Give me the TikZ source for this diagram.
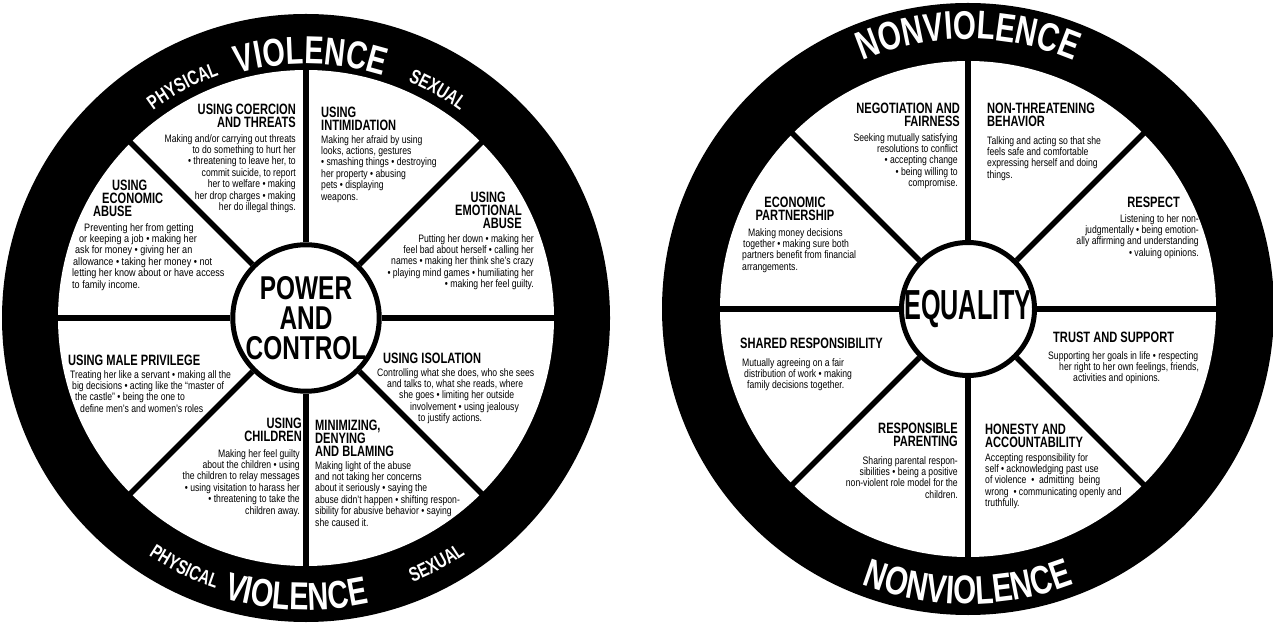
\documentclass[tikz,border=0pt]{standalone}
\usepackage{fontspec}
\newfontfamily\wheelbody{Liberation Sans}[FakeStretch=0.8]
\newfontfamily\wheelwide{Liberation Sans}[FakeStretch=0.84]
\newfontfamily\wheelhead{Liberation Sans}[FakeStretch=0.74]
\newfontfamily\wheelhub{Liberation Sans}[FakeStretch=0.6]
\newcommand{\ringbig}{\color{white}\wheelhead\bfseries\fontsize{39}{39}\selectfont}
\newcommand{\ringnon}{\color{white}\wheelhead\bfseries\fontsize{40}{40}\selectfont}
\newcommand{\ringsmall}{\color{white}\wheelhead\bfseries\fontsize{20}{20}\selectfont}
\usetikzlibrary{positioning,decorations.text}
\tikzset{
  baseline = (current bounding box.center),
}

\begin{document}
\begin{tikzpicture}[
    x=1pt, y=1pt,
    head/.style={font=\wheelhead\bfseries\fontsize{15}{13}\selectfont, inner sep=0pt},
    body/.style={font=\wheelbody\fontsize{10.8}{11.4}\selectfont, inner sep=0pt},
    spoke/.style={line width=5.5pt},
    hub/.style={circle, draw, line width=5pt, fill=white, inner sep=0pt, align=center},
    ringtext/.style={decorate, decoration={text along path, text align=center, text={#1}}}
    ]
    \useasboundingbox (0,0) rectangle (1273,624);
    \coordinate (L) at (306,306);
    \coordinate (R) at (968,315);

    \fill (L) circle (304);
    \fill[white] (L) circle (248);
    \node[hub, minimum size=124pt, font=\wheelhead\bfseries\fontsize{33}{30}\selectfont] (PC) at (L) {POWER\\AND\\CONTROL};
    \draw[spoke] (PC.0) -- ++(0:190);
    \draw[spoke] (PC.45) -- ++(45:190);
    \draw[spoke] (PC.90) -- ++(90:190);
    \draw[spoke] (PC.135) -- ++(135:190);
    \draw[spoke] (PC.180) -- ++(180:190);
    \draw[spoke] (PC.225) -- ++(225:190);
    \draw[spoke] (PC.270) -- ++(270:190);
    \draw[spoke] (PC.315) -- ++(315:190);

    \path[ringtext={|\ringbig|VIOLENCE}, shift={(L)}] (134:254) arc[start angle=134, end angle=44, radius=254];
    \path[ringtext={|\ringsmall|PHYSICAL}, shift={(L)}] (140:258) arc[start angle=140, end angle=96, radius=258];
    \path[ringtext={|\ringsmall|SEXUAL}, shift={(L)}] (82:258) arc[start angle=82, end angle=38, radius=258];
    \path[ringtext={|\ringbig|VIOLENCE}, shift={(L)}] (223:292) arc[start angle=223, end angle=313, radius=292];
    \path[ringtext={|\ringsmall|PHYSICAL}, shift={(L)}] (222:285) arc[start angle=222, end angle=266, radius=285];
    \path[ringtext={|\ringsmall|SEXUAL}, shift={(L)}] (276:285) arc[start angle=276, end angle=320, radius=285];

    \node[head, anchor=north east, align=right] (coerT) at (296,520) {USING COERCION\\AND THREATS};
    \node[body, anchor=north east, align=right] (coerB) at (296,490) {Making and/or carrying out threats\\to do something to hurt her\\• threatening to leave her, to\\commit suicide, to report\\her to welfare • making\\her drop charges • making\\her do illegal things.};
    \node[head, anchor=north west, align=left] (intiT) at (321,517) {USING\\INTIMIDATION};
    \node[body, anchor=north west, align=left] (intiB) at (321,489) {Making her afraid by using\\looks, actions, gestures\\• smashing things • destroying\\her property • abusing\\pets • displaying\\weapons.};
    \node[head, anchor=north east, align=right] (emoT) at (522,432) {USING\hspace*{16pt}\\EMOTIONAL\hspace*{7pt}\\ABUSE};
    \node[body, anchor=north east, align=right] (emoB) at (534,390) {Putting her down • making her\\feel bad about herself • calling her\\names • making her think she’s crazy\\• playing mind games • humiliating her\\• making her feel guilty.};
    \node[head, anchor=north west, align=left] (ecoT) at (93,444) {\hspace*{19pt}USING\\\hspace*{9pt}ECONOMIC\\ABUSE};
    \node[body, font=\wheelwide\fontsize{10.8}{11.4}\selectfont, anchor=north west, align=left] (ecoB) at (72,401) {\hspace*{12pt}Preventing her from getting\\\hspace*{7pt}or keeping a job • making her\\\hspace*{3pt}ask for money • giving her an\\\hspace*{1pt}allowance • taking her money • not\\letting her know about or have access\\to family income.};
    \node[head, anchor=north west, align=left] (maleT) at (68,269) {USING MALE PRIVILEGE};
    \node[body, anchor=north west, align=left] (maleB) at (70,254) {Treating her like a servant • making all the\\\hspace*{2pt}big decisions • acting like the “master of\\\hspace*{5pt}the castle” • being the one to\\\hspace*{10pt}define men’s and women’s roles};
    \node[head, anchor=north east, align=right] (chilT) at (302,206) {USING\\CHILDREN};
    \node[body, anchor=north east, align=right] (chilB) at (300,175) {Making her feel guilty\\about the children • using\\the children to relay messages\\• using visitation to harass her\\• threatening to take the\\children away.};
    \node[head, anchor=north west, align=left] (miniT) at (315,204) {MINIMIZING,\\DENYING\\AND BLAMING};
    \node[body, anchor=north west, align=left] (miniB) at (315,163) {Making light of the abuse\\and not taking her concerns\\about it seriously • saying the\\abuse didn’t happen • shifting respon-\\sibility for abusive behavior • saying\\she caused it.};
    \node[head, anchor=north west, align=left] (isoT) at (383,271) {USING ISOLATION};
    \node[body, anchor=north west, align=left] (isoB) at (377,256) {Controlling what she does, who she sees\\\hspace*{10pt}and talks to, what she reads, where\\\hspace*{22pt}she goes • limiting her outside\\\hspace*{33pt}involvement • using jealousy\\\hspace*{41pt}to justify actions.};

    \fill (R) circle (306);
    \fill[white] (R) circle (248);
    \node[hub, minimum size=133pt, font=\wheelhub\bfseries\fontsize{42}{42}\selectfont] (EQ) at (R) {EQUALITY};
    \draw[spoke] (EQ.0) -- ++(0:184);
    \draw[spoke] (EQ.45) -- ++(45:184);
    \draw[spoke] (EQ.90) -- ++(90:184);
    \draw[spoke] (EQ.135) -- ++(135:184);
    \draw[spoke] (EQ.180) -- ++(180:184);
    \draw[spoke] (EQ.225) -- ++(225:184);
    \draw[spoke] (EQ.270) -- ++(270:184);
    \draw[spoke] (EQ.315) -- ++(315:184);

    \path[ringtext={|\ringnon|NONVIOLENCE}, shift={(R)}] (140:270) arc[start angle=140, end angle=40, radius=270];
    \path[ringtext={|\ringnon|NONVIOLENCE}, shift={(R)}] (220:295) arc[start angle=220, end angle=320, radius=295];

    \node[head, anchor=north east, align=right] (negT) at (960,521) {NEGOTIATION AND\\FAIRNESS};
    \node[body, anchor=north east, align=right] (negB) at (958,491) {Seeking mutually satisfying\\resolutions to conflict\\• accepting change\\• being willing to\\compromise.};
    \node[head, anchor=north west, align=left] (nonT) at (987,521) {NON-THREATENING\\BEHAVIOR};
    \node[body, anchor=north west, align=left] (nonB) at (987,488) {Talking and acting so that she\\feels safe and comfortable\\expressing herself and doing\\things.};
    \node[head, anchor=north east, align=right] (resT) at (1180,427) {RESPECT};
    \node[body, anchor=north east, align=right] (resB) at (1199,410) {Listening to her non-\\judgmentally • being emotion-\\ally affirming and understanding\\• valuing opinions.};
    \node[head, anchor=north, align=center] (epT) at (795,427) {ECONOMIC\\PARTNERSHIP};
    \node[body, anchor=north west, align=left] (epB) at (742,396) {\hspace*{6pt}Making money decisions\\\hspace*{1pt}together • making sure both\\partners benefit from financial\\arrangements.};
    \node[head, anchor=north west, align=left] (shT) at (740,286) {SHARED RESPONSIBILITY};
    \node[body, anchor=north west, align=left] (shB) at (742,266) {Mutually agreeing on a fair\\\hspace*{2pt}distribution of work • making\\\hspace*{5pt}family decisions together.};
    \node[head, anchor=north east, align=right] (parT) at (958,201) {RESPONSIBLE\\PARENTING};
    \node[body, anchor=north east, align=right] (parB) at (958,168) {Sharing parental respon-\\sibilities • being a positive\\non-violent role model for the\\children.};
    \node[head, anchor=north west, align=left] (honT) at (985,200) {HONESTY AND\\ACCOUNTABILITY};
    \node[body, anchor=north west, align=left] (honB) at (985,171) {Accepting responsibility for\\self • acknowledging past use\\of violence~ • ~admitting~ being\\wrong~ • communicating openly and\\truthfully.};
    \node[head, anchor=north west, align=left] (truT) at (1053,292) {TRUST AND SUPPORT};
    \node[body, anchor=north west, align=left] (truB) at (1048,273) {Supporting her goals in life • respecting\\\hspace*{11pt}her right to her own feelings, friends,\\\hspace*{25pt}activities and opinions.};
\end{tikzpicture}
\end{document}
